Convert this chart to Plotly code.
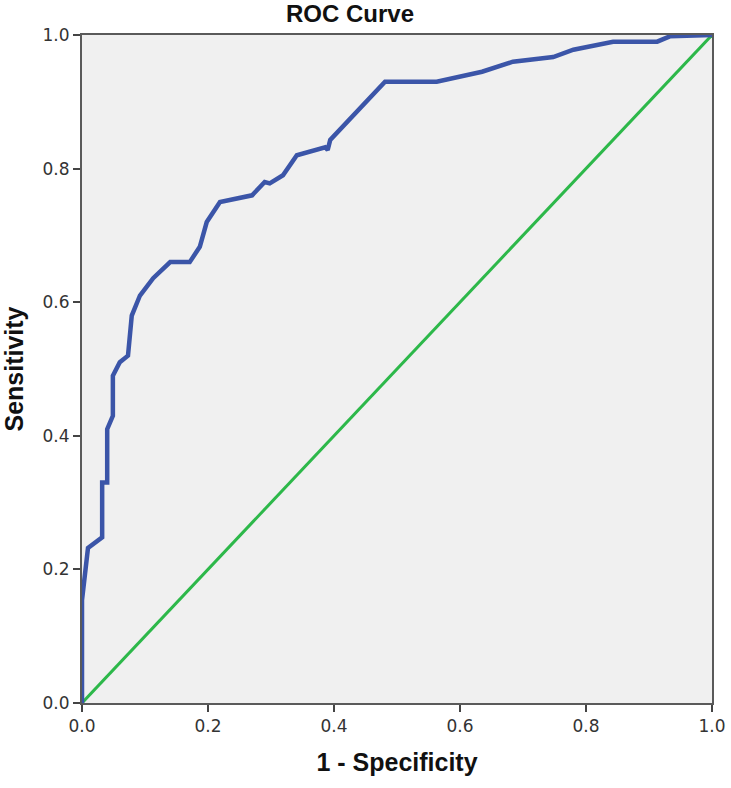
import plotly.graph_objects as go

fpr = [0.0, 0.0, 0.0095, 0.032, 0.032, 0.04, 0.04, 0.049, 0.049, 0.06, 0.073, 0.079,
       0.092, 0.113, 0.14, 0.171, 0.187, 0.198, 0.219, 0.251, 0.27, 0.29, 0.298, 0.319,
       0.341, 0.386, 0.39, 0.394, 0.481, 0.563, 0.635, 0.684, 0.748, 0.78, 0.843,
       0.913, 0.933, 1.0]
tpr = [0.0, 0.154, 0.232, 0.248, 0.33, 0.33, 0.41, 0.43, 0.49, 0.51, 0.52, 0.58,
       0.61, 0.636, 0.66, 0.66, 0.683, 0.72, 0.75, 0.756, 0.76, 0.78, 0.778, 0.79,
       0.82, 0.832, 0.828, 0.843, 0.93, 0.93, 0.945, 0.96, 0.967, 0.978, 0.99,
       0.99, 0.998, 1.0]
ref_x = [0.0, 1.0]
ref_y = [0.0, 1.0]
tick_vals = [0.0, 0.2, 0.4, 0.6, 0.8, 1.0]
tick_text = ["0.0", "0.2", "0.4", "0.6", "0.8", "1.0"]

W, H = 731, 788

fig = go.Figure()
fig.add_trace(go.Scatter(x=ref_x, y=ref_y, mode="lines",
                         line=dict(color="#2db84a", width=3), hoverinfo="skip"))
fig.add_trace(go.Scatter(x=fpr, y=tpr, mode="lines",
                         line=dict(color="#3b55a8", width=4.5)))

axis_common = dict(range=[0, 1], tickvals=tick_vals, ticktext=tick_text,
                   showgrid=False, zeroline=False, showline=True, mirror=True,
                   linecolor="#5a5a5a", linewidth=2, ticks="outside", ticklen=7,
                   tickwidth=2, tickcolor="#444444", ticklabeloverflow="allow",
                   tickfont=dict(family="DejaVu Sans", size=17, color="#333333"))

fig.update_layout(
    width=W, height=H,
    margin=dict(l=82, r=19, t=35, b=85, autoexpand=False),
    paper_bgcolor="white", plot_bgcolor="#f0f0f0",
    showlegend=False,
    title=dict(text="<b>ROC Curve</b>", xref="container", x=350 / W, xanchor="center",
               yref="container", y=1.0, yanchor="top", pad=dict(t=5),
               font=dict(family="Liberation Sans", size=24, color="#111111")),
    xaxis=dict(**axis_common,
               title=dict(text="<b>1 - Specificity</b>", standoff=18,
                          font=dict(family="Liberation Sans", size=25, color="#111111"))),
    yaxis=dict(**axis_common,
               title=dict(text="<b>Sensitivity</b>", standoff=20,
                          font=dict(family="Liberation Sans", size=25, color="#111111"))),
)

fig.write_html("out.html", config={"displayModeBar": False},
               post_script="document.body.style.margin='0';document.body.style.overflow='hidden';")
